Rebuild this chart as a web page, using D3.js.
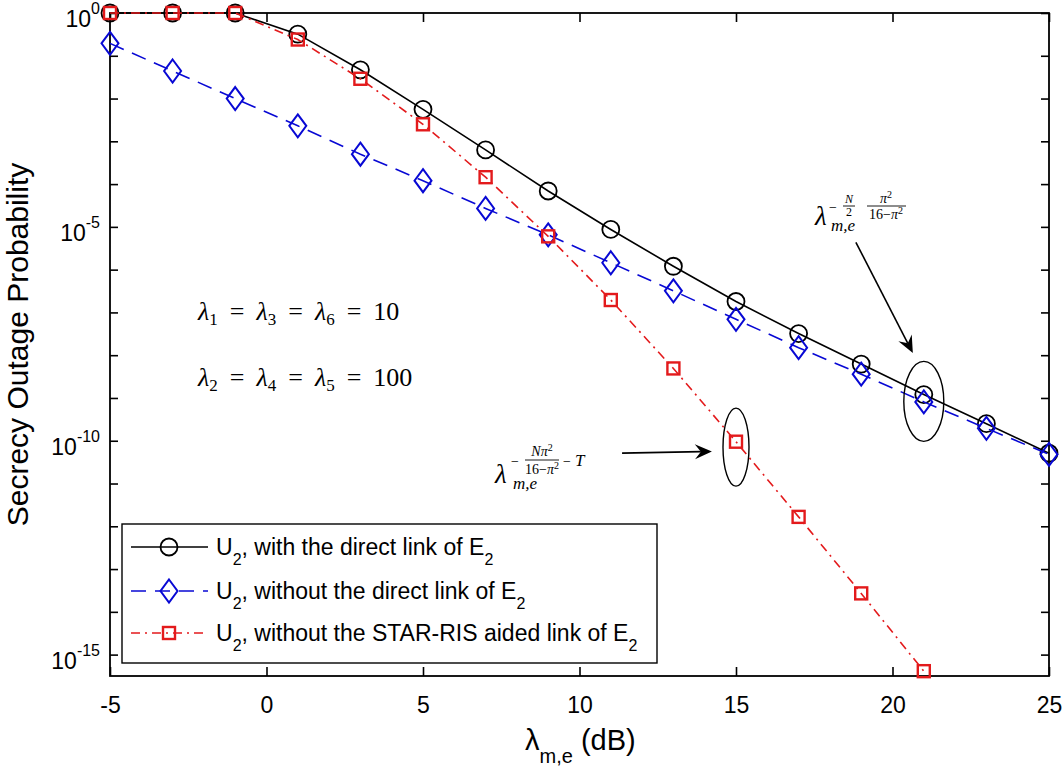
<!DOCTYPE html>
<html>
<head>
<meta charset="utf-8">
<script src="https://cdn.jsdelivr.net/npm/d3@7"></script>
<style>
  body { margin: 0; background: #fff; }
  text { white-space: pre; }
</style>
</head>
<body>
<svg id="chart" width="1063" height="772"></svg>
<script>
// lambda_{m,e} in dB
var snrDb = [-5, -3, -1, 1, 3, 5, 7, 9, 11, 13, 15, 17, 19, 21, 23, 25];
// U2, with the direct link of E2
var withDirectLink = [1, 1, 1, 3.2e-1, 4.7e-2, 5.6e-3, 6.3e-4, 6.9e-5, 8.7e-6, 1.2e-6, 1.8e-7, 3.2e-8, 6.2e-9, 1.2e-9, 2.5e-10, 5.1e-11];
// U2, without the direct link of E2
var withoutDirectLink = [1.95e-1, 4.4e-2, 1.0e-2, 2.3e-3, 5.0e-4, 1.2e-4, 2.7e-5, 6.5e-6, 1.45e-6, 3.2e-7, 6.9e-8, 1.5e-8, 3.6e-9, 8.1e-10, 1.95e-10, 4.8e-11];
// U2, without the STAR-RIS aided link of E2 (ends at 21 dB)
var withoutStarRis = [1, 1, 1, 2.4e-1, 2.9e-2, 2.5e-3, 1.45e-4, 6.0e-6, 1.95e-7, 4.9e-9, 9.5e-11, 1.66e-12, 2.7e-14, 4.1e-16];

var xTickValues = [-5, 0, 5, 10, 15, 20, 25];
var yLabelExps = [0, -5, -10, -15];
var legendLabels = ["with the direct link of E", "without the direct link of E", "without the STAR-RIS aided link of E"];

var sans = "'Liberation Sans', Arial, Helvetica, sans-serif";
var serif = "'Liberation Serif', 'Times New Roman', serif";

var svg = d3.select("#chart");
var plotLeft = 110, plotRight = 1049, plotTop = 13, plotBottom = 676;

var x = d3.scaleLinear().domain([-5, 25]).range([plotLeft, plotRight]);
var y = d3.scaleLog().domain([Math.pow(10, -15.5), 1]).range([plotBottom, plotTop]);

var decades = d3.range(0, -16, -1).map(function (e) { return Math.pow(10, e); });

// axes, ticks inward on all four sides
svg.append("g").attr("class", "x-axis")
  .attr("transform", "translate(0," + plotBottom + ")")
  .call(d3.axisBottom(x).tickValues(xTickValues).tickSizeInner(-9).tickSizeOuter(0)
    .tickPadding(21).tickFormat(function (d) { return String(d); }));
svg.append("g").attr("class", "x-top")
  .attr("transform", "translate(0," + plotTop + ")")
  .call(d3.axisTop(x).tickValues(xTickValues).tickSizeInner(-9).tickSizeOuter(0).tickFormat(""));
svg.append("g").attr("class", "y-axis")
  .attr("transform", "translate(" + plotLeft + ",0)")
  .call(d3.axisLeft(y).tickValues(decades).tickSizeInner(-8).tickSizeOuter(0).tickFormat(""));
svg.append("g").attr("class", "y-right")
  .attr("transform", "translate(" + plotRight + ",0)")
  .call(d3.axisRight(y).tickValues(decades).tickSizeInner(-8).tickSizeOuter(0).tickFormat(""));

svg.selectAll(".domain").remove();
svg.selectAll(".tick line").attr("stroke", "#000").attr("stroke-width", 1.6);
svg.selectAll(".x-axis text").attr("font-family", sans).attr("font-size", 23).attr("fill", "#000");

svg.append("rect")
  .attr("x", plotLeft).attr("y", plotTop)
  .attr("width", plotRight - plotLeft).attr("height", plotBottom - plotTop)
  .attr("fill", "none").attr("stroke", "#000").attr("stroke-width", 1.8);

// y tick labels 10^k
yLabelExps.forEach(function (e) {
  var t = svg.append("text")
    .attr("x", 100).attr("y", y(Math.pow(10, e)) + 14)
    .attr("text-anchor", "end")
    .attr("font-family", sans).attr("font-size", 23);
  t.append("tspan").text("10");
  t.append("tspan").attr("font-size", 16).attr("dy", -13).text(String(e));
});

// axis titles
svg.append("text")
  .attr("transform", "translate(28," + ((plotTop + plotBottom) / 2) + ") rotate(-90)")
  .attr("text-anchor", "middle")
  .attr("font-family", sans).attr("font-size", 30)
  .text("Secrecy Outage Probability");

var xt = svg.append("text")
  .attr("x", 525).attr("y", 750)
  .attr("font-family", sans).attr("font-size", 29);
xt.append("tspan").text("\u03bb");
xt.append("tspan").attr("font-size", 20).attr("dy", 13).text("m,e");
xt.append("tspan").attr("dy", -13).text(" (dB)");

// series
var series = [
  { values: withDirectLink, color: "#000000", dash: null, marker: "circle" },
  { values: withoutDirectLink, color: "#0808d4", dash: "15,9", marker: "diamond" },
  { values: withoutStarRis, color: "#e31a1c", dash: "9,5,2,5", marker: "square" }
];

function drawMarker(g, kind, color) {
  if (kind === "circle") {
    g.append("circle").attr("r", 8.5).attr("fill", "none").attr("stroke", color).attr("stroke-width", 1.8);
  } else if (kind === "diamond") {
    g.append("path").attr("d", "M0,-11.5L8.5,0L0,11.5L-8.5,0Z")
      .attr("fill", "none").attr("stroke", color).attr("stroke-width", 2);
  } else {
    g.append("rect").attr("x", -6).attr("y", -6).attr("width", 12).attr("height", 12)
      .attr("fill", "none").attr("stroke", color).attr("stroke-width", 2.4);
  }
}

var line = d3.line()
  .x(function (d) { return x(d[0]); })
  .y(function (d) { return y(d[1]); });

series.forEach(function (s) {
  var pts = s.values.map(function (v, i) { return [snrDb[i], v]; });
  svg.append("path")
    .datum(pts)
    .attr("d", line)
    .attr("fill", "none")
    .attr("stroke", s.color)
    .attr("stroke-width", 1.6)
    .attr("stroke-dasharray", s.dash);
  svg.append("g").selectAll("g")
    .data(pts).enter().append("g")
    .attr("transform", function (d) { return "translate(" + x(d[0]) + "," + y(d[1]) + ")"; })
    .each(function () { drawMarker(d3.select(this), s.marker, s.color); });
});

// parameter text
function lambdaLine(yy, subs, value) {
  var t = svg.append("text").attr("x", 198).attr("y", yy)
    .attr("font-family", serif).attr("font-size", 26);
  subs.forEach(function (s, i) {
    t.append("tspan").attr("font-style", "italic").attr("dx", i ? 12 : 0).text("\u03bb");
    t.append("tspan").attr("font-size", 17).attr("dy", 5).text(s);
    t.append("tspan").attr("dy", -5).attr("dx", 12).text("=");
  });
  t.append("tspan").attr("dx", 12).text(value);
}
lambdaLine(320, ["1", "3", "6"], "10");
lambdaLine(386, ["2", "4", "5"], "100");

// ellipses around the asymptote points
function ellipse(cx, cy, rx, ry) {
  svg.append("ellipse").attr("cx", cx).attr("cy", cy).attr("rx", rx).attr("ry", ry)
    .attr("fill", "none").attr("stroke", "#000").attr("stroke-width", 1.4);
}
ellipse(x(15), y(Math.pow(10, -10.15)), 13, 39);
ellipse(x(21), y(Math.pow(10, -9.08)), 20, 40);

// arrows
function arrow(x1, y1, x2, y2) {
  var dx = x2 - x1, dy = y2 - y1, len = Math.sqrt(dx * dx + dy * dy);
  var ux = dx / len, uy = dy / len, px = -uy, py = ux;
  var hl = 17, hw = 7.5, notch = 11;
  svg.append("line").attr("x1", x1).attr("y1", y1)
    .attr("x2", x2 - ux * notch).attr("y2", y2 - uy * notch)
    .attr("stroke", "#000").attr("stroke-width", 1.6);
  var p = [
    [x2, y2],
    [x2 - ux * hl + px * hw, y2 - uy * hl + py * hw],
    [x2 - ux * notch, y2 - uy * notch],
    [x2 - ux * hl - px * hw, y2 - uy * hl - py * hw]
  ];
  svg.append("path").attr("d", "M" + p.join("L") + "Z").attr("fill", "#000");
}
arrow(x(11.36), y(Math.pow(10, -10.29)), x(14.23), y(Math.pow(10, -10.25)));
arrow(x(18.83), y(Math.pow(10, -5.36)), x(20.65), y(Math.pow(10, -7.95)));

// math labels
function txt(xx, yy, s, size, italic, anchor) {
  return svg.append("text").attr("x", xx).attr("y", yy)
    .attr("font-family", serif).attr("font-size", size)
    .attr("font-style", italic ? "italic" : "normal")
    .attr("text-anchor", anchor || "start").text(s);
}
function bar(x1, x2, yy) {
  svg.append("line").attr("x1", x1).attr("x2", x2).attr("y1", yy).attr("y2", yy)
    .attr("stroke", "#000").attr("stroke-width", 0.9);
}
function mtext(xx, yy, size) {
  return svg.append("text").attr("x", xx).attr("y", yy)
    .attr("font-family", serif).attr("font-size", size).attr("text-anchor", "middle");
}

// lambda_{m,e}^{-N/2 * pi^2/(16-pi^2)}
txt(815, 225, "\u03bb", 27, true);
txt(831, 231, "m,e", 17, true);
txt(829, 212, "\u2212", 14, false);
txt(849, 203, "N", 12, true, "middle");
bar(843, 855, 206);
txt(849, 216, "2", 12, false, "middle");
var n1 = mtext(886, 203, 14);
n1.append("tspan").attr("font-style", "italic").text("\u03c0");
n1.append("tspan").attr("font-size", 10).attr("dy", -5).text("2");
bar(867, 906, 206);
var d1 = mtext(886, 219, 14);
d1.append("tspan").text("16\u2212");
d1.append("tspan").attr("font-style", "italic").text("\u03c0");
d1.append("tspan").attr("font-size", 10).attr("dy", -5).text("2");

// lambda_{m,e}^{-N pi^2/(16-pi^2) - T}
txt(495, 483, "\u03bb", 27, true);
txt(513, 489, "m,e", 17, true);
txt(511, 466, "\u2212", 14, false);
var n2 = mtext(542, 456, 14);
n2.append("tspan").attr("font-style", "italic").text("N\u03c0");
n2.append("tspan").attr("font-size", 10).attr("dy", -5).text("2");
bar(525, 559, 460);
var d2 = mtext(542, 474, 14);
d2.append("tspan").text("16\u2212");
d2.append("tspan").attr("font-style", "italic").text("\u03c0");
d2.append("tspan").attr("font-size", 10).attr("dy", -5).text("2");
txt(563, 466, "\u2212", 14, false);
txt(575, 466, "T", 17, true);

// legend
var lg = svg.append("g").attr("class", "legend");
lg.append("rect").attr("x", 122).attr("y", 524).attr("width", 535).attr("height", 139)
  .attr("fill", "#fff").attr("stroke", "#000").attr("stroke-width", 1.4);
var rowY = [547, 591, 633];
series.forEach(function (s, i) {
  var ry = rowY[i];
  lg.append("line").attr("x1", 131).attr("x2", 208).attr("y1", ry).attr("y2", ry)
    .attr("stroke", s.color).attr("stroke-width", 1.6)
    .attr("stroke-dasharray", s.dash);
  var mg = lg.append("g").attr("transform", "translate(169," + ry + ")");
  drawMarker(mg, s.marker, s.color);
  var t = lg.append("text").attr("x", 216).attr("y", ry + 8)
    .attr("font-family", sans).attr("font-size", 23);
  t.append("tspan").text("U");
  t.append("tspan").attr("font-size", 16).attr("dy", 10).text("2");
  t.append("tspan").attr("dy", -10).text(", " + legendLabels[i]);
  t.append("tspan").attr("font-size", 16).attr("dy", 10).text("2");
});
</script>
</body>
</html>
